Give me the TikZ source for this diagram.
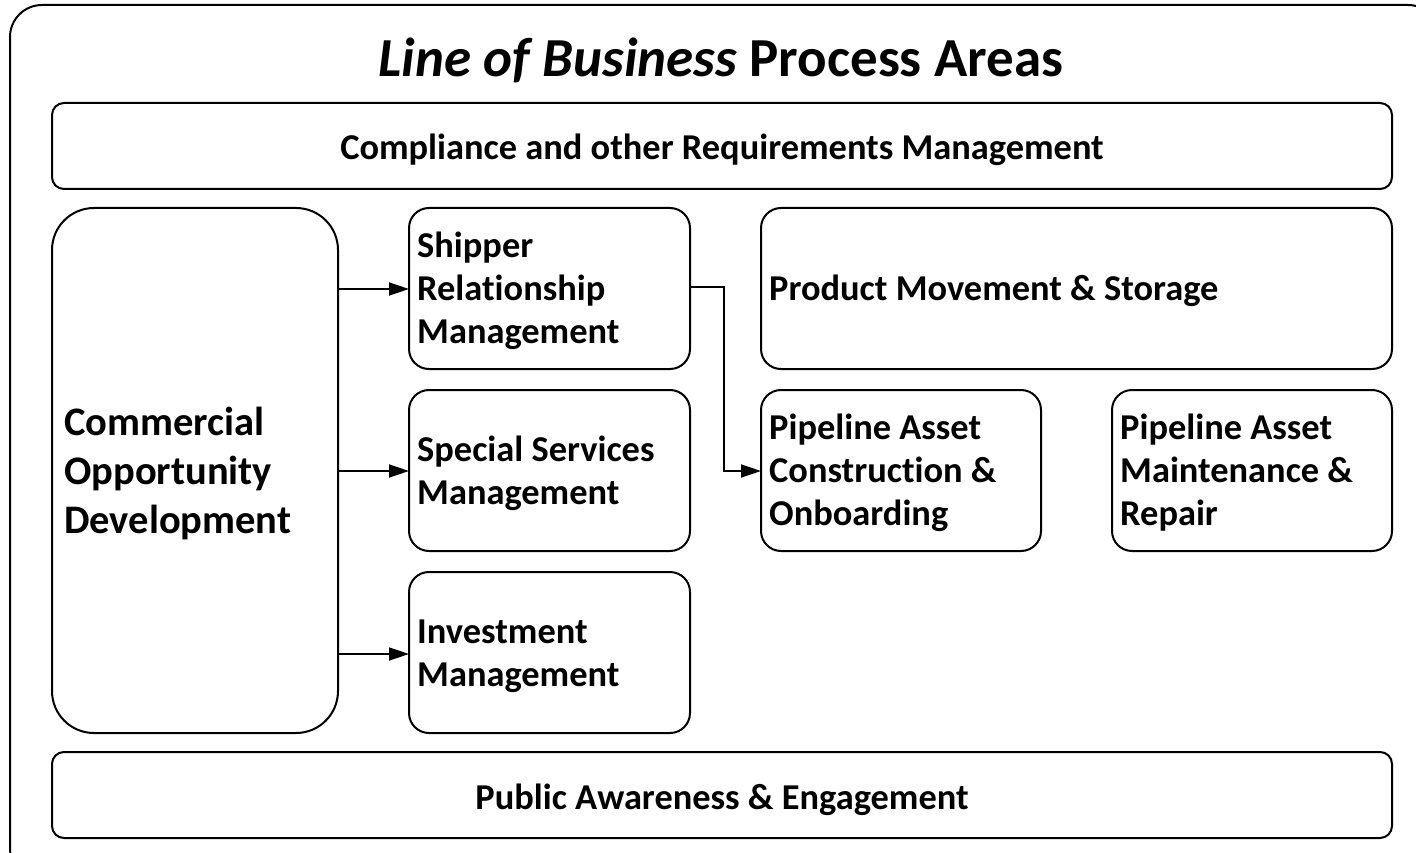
\documentclass[tikz,border=0pt]{standalone}
\usepackage{fontspec}
\setmainfont[Ligatures={TeX,NoCommon}]{Carlito}
\usetikzlibrary{arrows.meta}
\begin{document}
\begin{tikzpicture}[x=1pt,y=-1pt,
  box/.style={draw,line width=2pt,rounded corners=#1},
  lbl/.style={anchor=west,align=left,font=\fontsize{36.4}{43}\selectfont\bfseries,inner sep=0pt},
  clbl/.style={anchor=center,align=center,font=\fontsize{36.4}{43}\selectfont\bfseries,inner sep=0pt},
  arr/.style={line width=1.8pt,-{Triangle[length=20pt,width=13pt]}}]
\useasboundingbox (0,0) rectangle (1416,853);
\clip (0,0) rectangle (1416,853);
\fill[white] (0,0) rectangle (1416,853);
\draw[box=32pt] (10,5) rectangle (1440,880);
\node[clbl,font=\fontsize{55}{60}\selectfont\bfseries] (title) at (721,60) {\textit{Line of Business} Process Areas};
\draw[box=12pt] (52,103) rectangle (1392,189);
\node[clbl] (comp) at (722,150) {Compliance and other Requirements Management};
\draw[box=42pt] (52,208) rectangle (338,733);
\node[lbl,font=\fontsize{40.5}{49}\selectfont\bfseries] (comm) at (64,473) {Commercial\\Opportunity\\Development};
\draw[box=20pt] (409,208) rectangle (690,369);
\node[lbl] (ship) at (417,291) {Shipper\\Relationship\\Management};
\draw[box=20pt] (409,390) rectangle (690,551);
\node[lbl] (spec) at (417,473) {Special Services\\Management};
\draw[box=20pt] (409,572) rectangle (690,733);
\node[lbl] (inv) at (417,656) {Investment\\Management};
\draw[box=20pt] (761,208) rectangle (1392,369);
\node[lbl] (prod) at (769,291) {Product Movement \& Storage};
\draw[box=20pt] (761,390) rectangle (1041,551);
\node[lbl] (pcon) at (769,473) {Pipeline Asset\\Construction \&\\Onboarding};
\draw[box=20pt] (1112,390) rectangle (1392,551);
\node[lbl] (pmain) at (1120,473) {Pipeline Asset\\Maintenance \&\\Repair};
\draw[box=12pt] (52,752) rectangle (1392,838);
\node[clbl] (pub) at (722,800) {Public Awareness \& Engagement};
\coordinate (cR1) at (338,289);
\coordinate (cR2) at (338,471);
\coordinate (cR3) at (338,654);
\coordinate (sL1) at (409,289);
\coordinate (sL2) at (409,471);
\coordinate (sL3) at (409,654);
\coordinate (sR) at (690,287);
\coordinate (pL) at (761,471);
\draw[arr] (cR1) -- (sL1);
\draw[arr] (cR2) -- (sL2);
\draw[arr] (cR3) -- (sL3);
\draw[arr] (sR) -- (724,287) |- (pL);
\end{tikzpicture}
\end{document}
